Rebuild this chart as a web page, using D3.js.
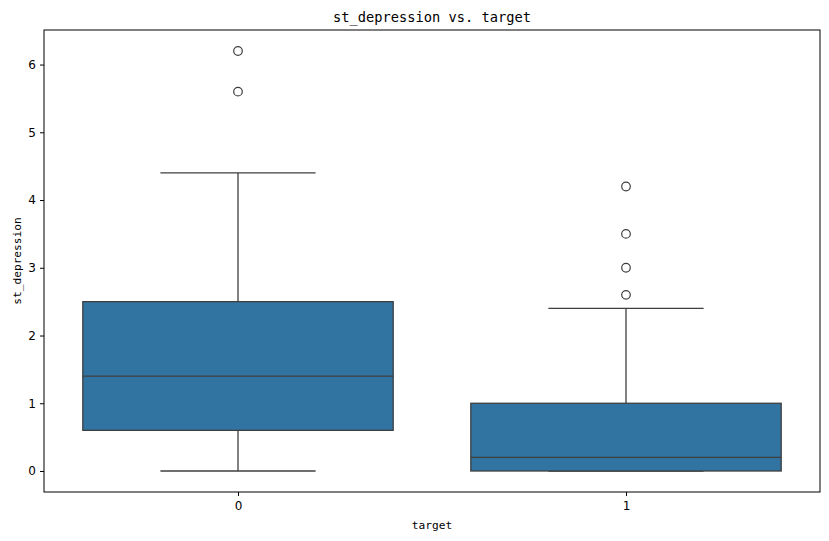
<!DOCTYPE html>
<html><head><meta charset="utf-8">
<script src="https://cdn.jsdelivr.net/npm/d3@7"></script>
<style>body{margin:0;background:#fff}svg{display:block}</style>
</head><body>
<script>
const categories = ["0", "1"];
const q1 = [0.6, 0.0];
const medians = [1.4, 0.2];
const q3 = [2.5, 1.0];
const whiskerLow = [0.0, 0.0];
const whiskerHigh = [4.4, 2.4];
const outliers = [[5.6, 6.2], [2.6, 3.0, 3.5, 4.2]];
const yTicks = [0, 1, 2, 3, 4, 5, 6];

const W = 829, H = 541;
const m = {left: 44, right: 829 - 820, top: 30, bottom: 541 - 492};
const svg = d3.select("body").append("svg").attr("width", W).attr("height", H);

const x = d3.scaleLinear().domain([-0.5, 1.5]).range([m.left, W - m.right]);
const y = d3.scaleLinear().domain([-0.31, 6.51]).range([H - m.bottom, m.top]);
const font = "'DejaVu Sans Mono', monospace";
const lc = "#3f3f3f";
const fill = "#3274a1";

const g = svg.append("g");
categories.forEach((c, i) => {
  const cx = x(i), hw = x(0.4) - x(0);
  const cw = x(0.2) - x(0);
  // whiskers
  g.append("line").attr("x1", cx).attr("x2", cx).attr("y1", y(q3[i])).attr("y2", y(whiskerHigh[i])).attr("stroke", lc).attr("stroke-width", 1.3);
  g.append("line").attr("x1", cx).attr("x2", cx).attr("y1", y(q1[i])).attr("y2", y(whiskerLow[i])).attr("stroke", lc).attr("stroke-width", 1.3);
  [whiskerLow[i], whiskerHigh[i]].forEach(v => {
    g.append("line").attr("x1", cx - cw).attr("x2", cx + cw).attr("y1", y(v)).attr("y2", y(v)).attr("stroke", lc).attr("stroke-width", 1.3);
  });
  g.append("rect").attr("x", cx - hw).attr("width", 2 * hw)
    .attr("y", y(q3[i])).attr("height", y(q1[i]) - y(q3[i]))
    .attr("fill", fill).attr("stroke", lc).attr("stroke-width", 1.3);
  g.append("line").attr("x1", cx - hw).attr("x2", cx + hw).attr("y1", y(medians[i])).attr("y2", y(medians[i])).attr("stroke", lc).attr("stroke-width", 1.3);
  outliers[i].forEach(v => {
    g.append("circle").attr("cx", cx).attr("cy", y(v)).attr("r", 4.3)
      .attr("fill", "none").attr("stroke", lc).attr("stroke-width", 1.2);
  });
});

// axes
const yAxis = svg.append("g").attr("transform", `translate(${m.left},0)`)
  .call(d3.axisLeft(y).tickValues(yTicks).tickSize(4).tickPadding(4).tickFormat(d3.format("d")));
const xAxis = svg.append("g").attr("transform", `translate(0,${H - m.bottom})`)
  .call(d3.axisBottom(x).tickValues([0, 1]).tickSize(4).tickPadding(5).tickFormat(d => categories[d]));
[xAxis, yAxis].forEach(a => {
  a.selectAll("text").attr("font-family", "'Liberation Sans Narrow','DejaVu Sans',sans-serif").attr("font-size", 12).attr("fill", "#000");
  a.selectAll("line").attr("stroke", "#000").attr("stroke-width", 1);
  a.select(".domain").remove();
});
svg.append("rect").attr("x", m.left).attr("y", m.top).attr("width", W - m.right - m.left)
  .attr("height", H - m.bottom - m.top).attr("fill", "none").attr("stroke", "#000").attr("stroke-width", 1);

svg.append("text").attr("x", (m.left + W - m.right) / 2).attr("y", 22).attr("text-anchor", "middle")
  .attr("font-family", font).attr("font-size", 13.7).text("st_depression vs. target");
svg.append("text").attr("x", (m.left + W - m.right) / 2).attr("y", 529).attr("text-anchor", "middle")
  .attr("font-family", font).attr("font-size", 11.2).text("target");
svg.append("text").attr("transform", `translate(21,${(m.top + H - m.bottom) / 2}) rotate(-90)`).attr("text-anchor", "middle")
  .attr("font-family", font).attr("font-size", 11.2).text("st_depression");
</script>
</body></html>
